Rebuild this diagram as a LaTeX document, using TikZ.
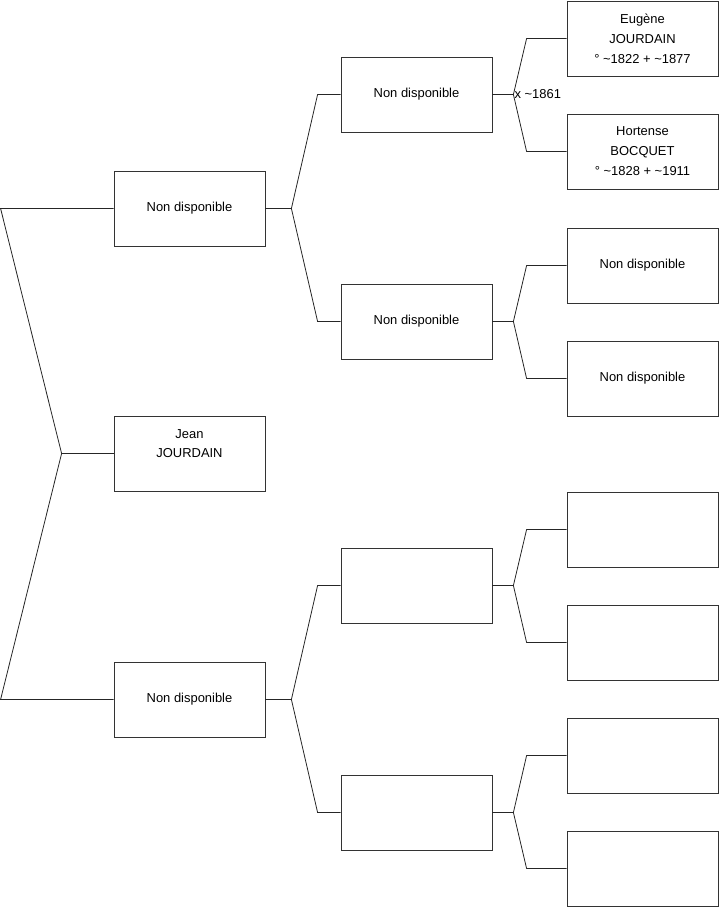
\documentclass[tikz,border=0pt]{standalone}
\usepackage{fontspec}
\setmainfont{Liberation Sans}

\begin{document}
\begin{tikzpicture}[x=1bp, y=-1bp,
  pers/.style={draw=black!80, line width=0.8bp, minimum width=151bp, minimum height=75bp, align=center, inner sep=2pt, font=\fontsize{13}{20}\selectfont},
  lnk/.style={draw=black!85, line width=0.8bp},
  lbl/.style={anchor=west, inner sep=1pt, font=\fontsize{13}{20}\selectfont}
]
\useasboundingbox (0,0) rectangle (719,908);
\node[pers] (root) at (189.5,453.5) {Jean\\JOURDAIN\\\mbox{}};
\foreach \i/\y in {1/208.5, 2/699.5}
 \node[pers] (p\i) at (189.5,\y) {Non disponible};
\foreach \i/\y/\t in {1/94.5/Non disponible, 2/321.5/Non disponible, 3/585.5/{}, 4/812.5/{}}
 \node[pers] (g\i) at (416.5,\y) {\t};
\foreach \i/\y/\t in {
 1/38.5/{Eugène\\JOURDAIN\\° \textasciitilde1822 + \textasciitilde1877},
 2/151.5/{Hortense\\BOCQUET\\° \textasciitilde1828 + \textasciitilde1911},
 3/265.5/Non disponible, 4/378.5/Non disponible,
 5/529.5/{}, 6/642.5/{}, 7/755.5/{}, 8/868.5/{}}
 \node[pers] (a\i) at (642.5,\y) {\t};
\draw[lnk] (root.west) -- ++(-52,0) coordinate (jr);
\draw[lnk] (p1.west) -- ++(-113,0) -- (jr) -- ([xshift=-113bp]p2.west) -- (p2.west);
\foreach \p/\a/\b in {p1/g1/g2, p2/g3/g4} {
 \draw[lnk] (\p.east) -- ++(26,0) coordinate (j\p);
 \draw[lnk] (\a.west) -- ++(-23,0) -- (j\p) -- ([xshift=-23bp]\b.west) -- (\b.west);
}
\foreach \p/\a/\b in {g1/a1/a2, g2/a3/a4, g3/a5/a6, g4/a7/a8} {
 \draw[lnk] (\p.east) -- ++(21,0) coordinate (j\p);
 \draw[lnk] (\a.west) -- ++(-40,0) -- (j\p) -- ([xshift=-40bp]\b.west) -- (\b.west);
}
\node[lbl] (mar) at (jg1) {x \textasciitilde1861};
\end{tikzpicture}
\end{document}
